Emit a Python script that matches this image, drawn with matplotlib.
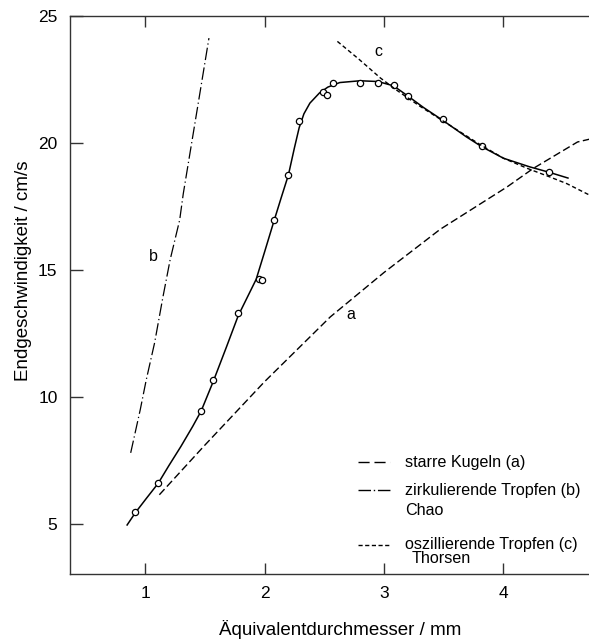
import matplotlib
matplotlib.use("Agg")
from matplotlib import pyplot as plt
from matplotlib.lines import Line2D

plt.rcParams['font.family'] = ['Liberation Sans', 'DejaVu Sans']

# measured terminal velocity (circles) and fitted curve
mess_d = [0.92, 1.11, 1.47, 1.57, 1.78, 1.95, 1.98, 2.08, 2.20, 2.29, 2.49, 2.52,
          2.57, 2.80, 2.95, 3.08, 3.20, 3.49, 3.82, 4.38]
mess_v = [5.47, 6.60, 9.45, 10.65, 13.3, 14.65, 14.6, 16.95, 18.74, 20.87, 22.0, 21.9,
          22.36, 22.36, 22.36, 22.3, 21.85, 20.94, 19.88, 18.86]

fit_d = [0.85, 0.92, 1.01, 1.11, 1.20, 1.30, 1.40, 1.47, 1.57, 1.68, 1.78, 1.93,
         2.00, 2.08, 2.14, 2.20, 2.25, 2.29, 2.33, 2.38, 2.46, 2.53, 2.63, 2.80,
         2.95, 3.08, 3.20, 3.33, 3.49, 3.69, 3.82, 4.00, 4.22, 4.38, 4.54]
fit_v = [4.96, 5.45, 6.00, 6.60, 7.30, 8.05, 8.85, 9.45, 10.6, 11.95, 13.2, 14.63,
         15.7, 16.94, 17.85, 18.74, 19.8, 20.6, 21.15, 21.57, 21.97, 22.2, 22.38, 22.45,
         22.42, 22.25, 21.85, 21.4, 20.9, 20.24, 19.85, 19.4, 19.06, 18.85, 18.62]

# (a) starre Kugeln
a_d = [1.12, 1.50, 2.00, 2.55, 3.00, 3.47, 4.03, 4.25, 4.62, 4.72]
a_v = [6.15, 8.10, 10.6, 13.15, 14.9, 16.6, 18.27, 19.0, 20.04, 20.15]

# (b) zirkulierende Tropfen, Chao
b_d = [0.88, 0.96, 1.01, 1.08, 1.15, 1.21, 1.29, 1.32, 1.45, 1.535]
b_v = [7.8, 9.5, 10.67, 12.13, 13.94, 15.4, 16.97, 18.0, 21.7, 24.13]

# (c) oszillierende Tropfen, Thorsen
c_d = [2.61, 2.79, 2.97, 3.10, 3.30, 3.50, 3.80, 4.00, 4.20, 4.39, 4.53, 4.72]
c_v = [24.0, 23.3, 22.56, 22.1, 21.45, 20.85, 19.95, 19.4, 19.0, 18.66, 18.4, 17.95]

x_ticks = [1, 2, 3, 4]
y_ticks = [5, 10, 15, 20, 25]

legend_rows = ["starre Kugeln (a)", "zirkulierende Tropfen (b)", "oszillierende Tropfen (c)"]

fig = plt.figure(figsize=(5.89, 6.42), dpi=100)
ax = fig.add_axes([70 / 589, 68 / 642, 519 / 589, 558 / 642])

ax.plot(fit_d, fit_v, color='black', lw=1.1)
ax.plot(mess_d, mess_v, 'o', ms=4.5, mfc='white', mec='black', mew=0.9)
ax.plot(a_d, a_v, color='black', lw=1.0, dashes=(5.5, 2.5))
ax.plot(b_d, b_v, color='black', lw=0.9, dashes=(10, 2.5, 1, 2.5))
ax.plot(c_d, c_v, color='black', lw=1.0, dashes=(3, 2))

ax.text(2.72, 13.25, "a", fontsize=11.5, ha='center', va='center')
ax.text(1.07, 15.55, "b", fontsize=11.5, ha='center', va='center')
ax.text(2.95, 23.6, "c", fontsize=11.5, ha='center', va='center')

# legend drawn by hand
tr = ax.transAxes
styles = [(8, 3.5), (9, 2, 1, 2), (3, 1.8)]
rows_y = [0.2007, 0.1505, 0.052]
for txt, ds, yy in zip(legend_rows, styles, rows_y):
    ax.add_line(Line2D([0.555, 0.617], [yy, yy], transform=tr, color='black',
                       lw=1.0, dashes=ds))
    ax.text(0.645, yy, txt, transform=tr, fontsize=11.6, va='center')
ax.text(0.645, 0.113, "Chao", transform=tr, fontsize=11.6, va='center')
ax.text(0.659, 0.027, "Thorsen", transform=tr, fontsize=11.6, va='center')

ax.set_xlim(0.372, 4.716)
ax.set_ylim(3.03, 25)
ax.set_xticks(x_ticks)
ax.set_yticks(y_ticks)
ax.tick_params(axis='both', direction='in', labelsize=12.5, color='#333333',
               width=1.0, pad=9)
ax.tick_params(axis='x', length=8, top=True)
ax.tick_params(axis='y', length=9.5)
ax.spines['right'].set_visible(False)
for s in ['left', 'bottom', 'top']:
    ax.spines[s].set_color('#333333')
    ax.spines[s].set_linewidth(1.0)

ax.set_xlabel("Äquivalentdurchmesser / mm", fontsize=13.5)
ax.set_ylabel("Endgeschwindigkeit / cm/s", fontsize=13.5)
ax.xaxis.set_label_coords(0.52, -0.082)
ax.yaxis.set_label_coords(-0.073, 0.543)

fig.savefig("out.png", dpi=100)
